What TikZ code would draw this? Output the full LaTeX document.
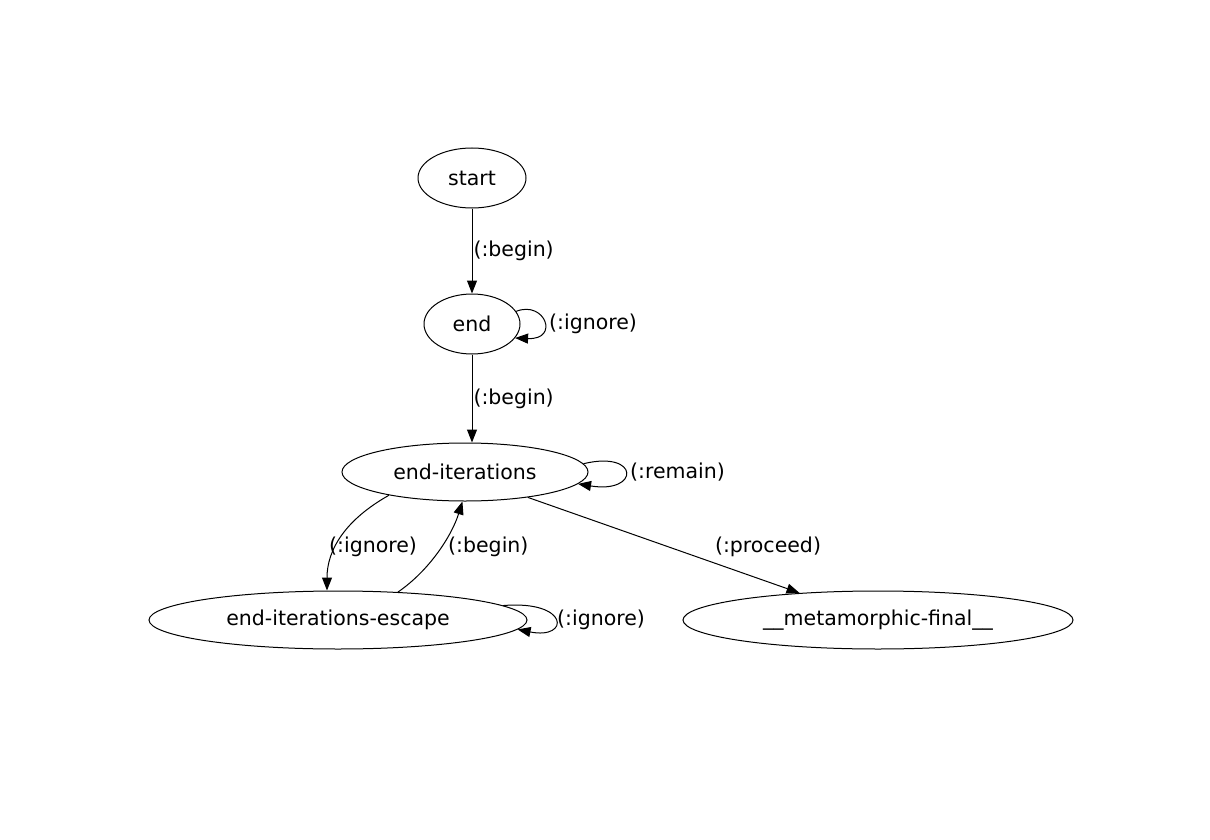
\documentclass[tikz,border=0pt]{standalone}
\usepackage{fontspec}
\setmainfont{DejaVu Sans}
\usetikzlibrary{shapes.geometric,arrows.meta}
\begin{document}
\begin{tikzpicture}[x=1pt,y=-1pt,
  state/.style={ellipse,draw,line width=1pt,inner sep=0pt,font=\fontsize{20.5}{22}\selectfont},
  edge/.style={line width=1pt,-{Triangle[length=13pt,width=10pt]}},
  lbl/.style={font=\fontsize{20.5}{22}\selectfont,inner sep=0pt}]
\useasboundingbox (0,0) rectangle (1210,840);
\node[state,minimum width=108pt,minimum height=60pt] (start) at (472,178) {start};
\node[state,minimum width=96pt,minimum height=60pt] (end) at (472,324) {end};
\node[state,minimum width=246pt,minimum height=58pt] (ei) at (465,472) {end-iterations};
\node[state,minimum width=378pt,minimum height=58pt] (eie) at (338,620) {end-iterations-escape};
\node[state,minimum width=390pt,minimum height=58pt] (mf) at (878,620) {\_\_metamorphic-final\_\_};

\draw[edge] (start) -- (end) node[lbl,midway,right=1pt] {(:begin)};
\draw[edge] (end.south) -- (end.south |- ei.north) node[lbl,midway,right=1pt] {(:begin)};
\draw[edge] (end.16) .. controls (545,300) and (560,340) .. (end.-18);
\node[lbl,anchor=west] (l1) at (549,324) {(:ignore)};
\draw[edge] (ei.4.6) .. controls (640,450) and (640,494) .. (ei.-6);
\node[lbl,anchor=west] (l2) at (630,472) {(:remain)};
\draw[edge] (eie.5.5) .. controls (570,600) and (570,640) .. (eie.-3.6);
\node[lbl,anchor=west] (l3) at (557,620) {(:ignore)};
\draw[edge] (ei.-163) .. controls (345,520) and (327,550) .. (eie.north -| 327,0);
\node[lbl,anchor=west] (l4) at (329,547) {(:ignore)};
\draw[edge] (eie.25) .. controls (430,570) and (452,535) .. (ei.-95);
\node[lbl,anchor=west] (l5) at (448,547) {(:begin)};
\draw[edge] (ei.-22.5) -- (mf.161);
\node[lbl] (l6) at (768,547) {(:proceed)};
\end{tikzpicture}
\end{document}
